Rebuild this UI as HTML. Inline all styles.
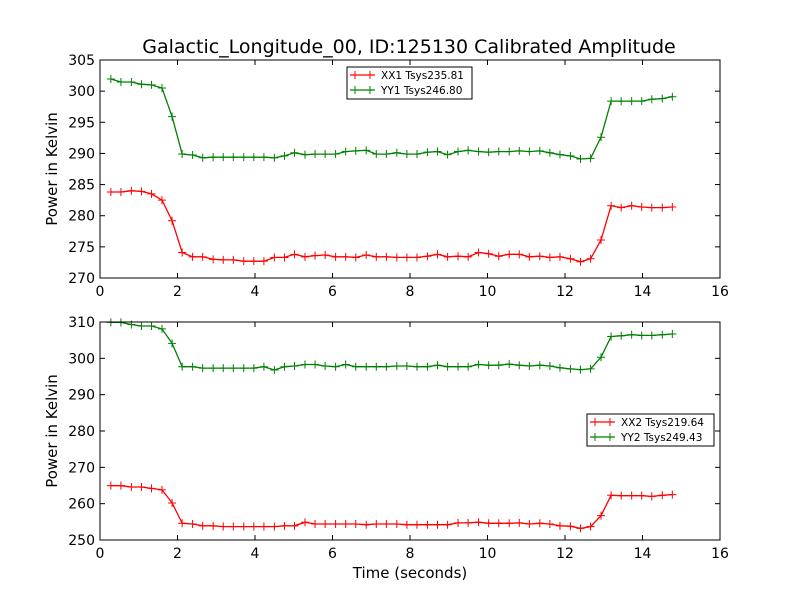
<!DOCTYPE html>
<html><head><meta charset="utf-8"><style>
body{margin:0;background:#fff;}
svg{display:block;font-family:"DejaVu Sans","Liberation Sans",sans-serif;}
</style></head><body>
<svg id="chart" width="800" height="600" viewBox="0 0 800 600" xmlns="http://www.w3.org/2000/svg">
<rect x="0" y="0" width="800" height="600" fill="#fff"/>
<text x="409" y="53" font-size="19" text-anchor="middle">Galactic_Longitude_00, ID:125130 Calibrated Amplitude</text>
<text transform="translate(57,169) rotate(-90)" font-size="15" text-anchor="middle">Power in Kelvin</text>
<text transform="translate(57,431) rotate(-90)" font-size="15" text-anchor="middle">Power in Kelvin</text>
<text x="410" y="578" font-size="15" text-anchor="middle">Time (seconds)</text>
<g id="top"></g>
<g id="bot"></g>
</svg>
<script>
const times=[0.28,0.54,0.81,1.07,1.33,1.60,1.86,2.12,2.39,2.65,2.92,3.18,3.44,3.71,3.97,4.23,4.50,4.76,5.02,5.29,5.55,5.81,6.08,6.34,6.60,6.87,7.13,7.39,7.66,7.92,8.18,8.45,8.71,8.97,9.24,9.50,9.77,10.03,10.29,10.56,10.82,11.08,11.35,11.61,11.87,12.14,12.40,12.66,12.93,13.19,13.45,13.72,13.98,14.24,14.51,14.77];
const xx1=[283.8,283.8,284.0,283.9,283.5,282.5,279.2,274.1,273.4,273.4,273.0,272.9,272.9,272.7,272.7,272.7,273.3,273.3,273.8,273.4,273.6,273.7,273.4,273.4,273.3,273.7,273.4,273.4,273.3,273.3,273.3,273.5,273.8,273.4,273.5,273.4,274.1,273.9,273.5,273.8,273.8,273.4,273.5,273.3,273.4,273.1,272.6,273.1,276.1,281.6,281.3,281.6,281.4,281.3,281.3,281.4];
const yy1=[301.95,301.47,301.47,301.1,301.0,300.5,295.9,289.9,289.75,289.3,289.4,289.4,289.4,289.4,289.4,289.4,289.3,289.6,290.1,289.8,289.9,289.9,289.9,290.3,290.4,290.5,289.9,289.9,290.1,289.9,289.9,290.2,290.3,289.8,290.3,290.5,290.3,290.2,290.3,290.3,290.4,290.3,290.4,290.1,289.8,289.6,289.1,289.2,292.6,298.4,298.4,298.4,298.4,298.7,298.8,299.1];
const xx2=[264.95,264.95,264.6,264.6,264.2,263.8,260.2,254.6,254.4,253.9,253.9,253.7,253.7,253.7,253.7,253.7,253.7,253.9,253.9,254.9,254.4,254.4,254.4,254.4,254.4,254.2,254.4,254.4,254.4,254.2,254.2,254.2,254.2,254.2,254.7,254.7,254.9,254.6,254.6,254.6,254.7,254.4,254.6,254.4,253.9,253.8,253.2,253.7,256.7,262.3,262.2,262.2,262.2,262.0,262.3,262.5];
const yy2=[309.9,309.9,309.3,308.9,308.9,308.1,304.1,297.7,297.7,297.3,297.3,297.3,297.3,297.3,297.3,297.7,296.8,297.7,297.9,298.3,298.3,297.9,297.7,298.3,297.7,297.7,297.7,297.7,297.9,297.9,297.7,297.7,298.1,297.7,297.7,297.7,298.3,298.1,298.1,298.4,298.1,297.9,298.1,297.9,297.4,297.1,296.9,297.1,300.3,306.0,306.2,306.5,306.3,306.3,306.5,306.7];
const xTicks=[0,2,4,6,8,10,12,14,16];
const yTicksTop=[270,275,280,285,290,295,300,305];
const yTicksBot=[250,260,270,280,290,300,310];
const legendTop=["XX1 Tsys235.81","YY1 Tsys246.80"];
const legendBot=["XX2 Tsys219.64","YY2 Tsys249.43"];
const NS="http://www.w3.org/2000/svg";
function mk(parent,tag,attrs){const e=document.createElementNS(NS,tag);for(const k in attrs)e.setAttribute(k,attrs[k]);parent.appendChild(e);return e;}
function panel(g,name,top,bot,ymin,ymax,yTicks,series,legend,lx,ly){
  const L=100,R=720,xmin=0,xmax=16;
  const sx=v=>L+(v-xmin)/(xmax-xmin)*(R-L);
  const sy=v=>bot-(v-ymin)/(ymax-ymin)*(bot-top);
  xTicks.forEach(t=>{
    const x=sx(t);
    const a=mk(g,'line',{x1:x,x2:x,y1:bot,y2:bot-5,stroke:'#000'});
    
    
    const b=mk(g,'line',{x1:x,x2:x,y1:top,y2:top+5,stroke:'#000'});
    
    
    const tx=mk(g,'text',{x:x,y:bot+18,'font-size':14,'text-anchor':'middle'});
    tx.textContent=t;
    
    
  });
  yTicks.forEach(t=>{
    const y=sy(t);
    const a=mk(g,'line',{x1:L,x2:L+5,y1:y,y2:y,stroke:'#000'});
    
    
    const b=mk(g,'line',{x1:R,x2:R-5,y1:y,y2:y,stroke:'#000'});
    
    
    const tx=mk(g,'text',{x:L-5,y:y+5,'font-size':14,'text-anchor':'end'});
    tx.textContent=t;
    
    
  });
  series.forEach(s=>{
    const pts=times.map((t,i)=>sx(t).toFixed(1)+','+sy(s.v[i]).toFixed(1)).join(' ');
    const pl=mk(g,'polyline',{points:pts,fill:'none',stroke:s.c,'stroke-width':1.3});
    
    
    times.forEach((t,i)=>{
      const x=sx(t),y=sy(s.v[i]);
      const m=mk(g,'path',{d:`M${x-4},${y}H${x+4}M${x},${y-4}V${y+4}`,stroke:s.c,'stroke-width':1});
      
      
    });
  });
  const fr=mk(g,'rect',{x:L,y:top,width:R-L,height:bot-top,fill:'none',stroke:'#000','stroke-width':1});
  
  
  const lw=legend.w;
  const lg=mk(g,'g',{});
  
  
  mk(lg,'rect',{x:lx,y:ly,width:lw,height:32,fill:'#fff',stroke:'#000','stroke-width':1});
  series.forEach((s,i)=>{
    const y=ly+8+i*15;
    const e=mk(lg,'g',{});
    
    
    mk(e,'line',{x1:lx+3,x2:lx+28,y1:y,y2:y,stroke:s.c,'stroke-width':1.3});
    mk(e,'path',{d:`M${lx+4},${y}H${lx+12}M${lx+8},${y-4}V${y+4}M${lx+19},${y}H${lx+27}M${lx+23},${y-4}V${y+4}`,stroke:s.c});
    const t=mk(e,'text',{x:lx+34,y:y+4,'font-size':10.5});
    t.textContent=legend.labels[i];
  });
}
panel(document.getElementById('top'),'top',60,278,270,305,yTicksTop,
  [{n:'xx1',c:'#ff0000',v:xx1},{n:'yy1',c:'#008000',v:yy1}],{labels:legendTop,w:125},347,67);
panel(document.getElementById('bot'),'bottom',322,540,250,310,yTicksBot,
  [{n:'xx2',c:'#ff0000',v:xx2},{n:'yy2',c:'#008000',v:yy2}],{labels:legendBot,w:127},587,414);
</script>
</body></html>
